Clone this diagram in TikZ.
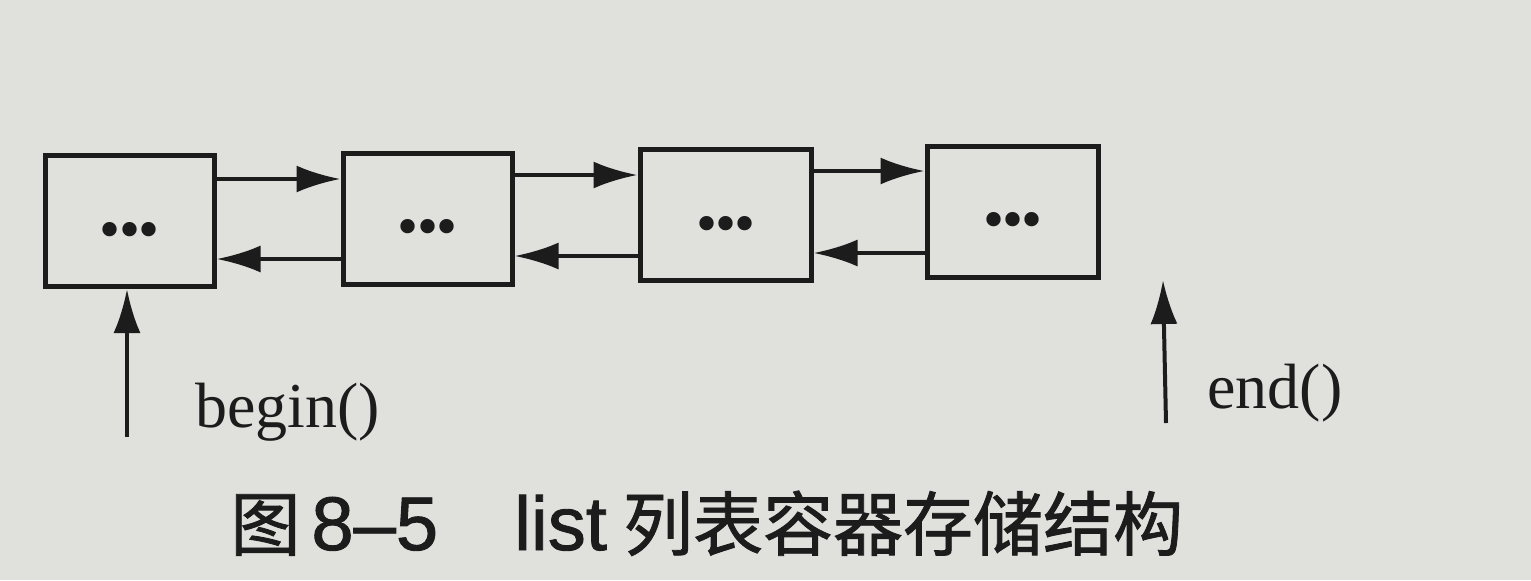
\documentclass[tikz,border=0pt]{standalone}
\usepackage{fontspec}
\setmainfont{Liberation Serif}
\newfontfamily\cjk[FakeBold=1.2]{Noto Sans CJK SC}
\newfontfamily\capl[FakeBold=1.2]{Liberation Sans}
\usetikzlibrary{arrows.meta,calc}
\definecolor{paper}{RGB}{224,224,221}
\definecolor{ink}{RGB}{28,28,28}
\tikzset{
  cell/.style={draw=ink, line width=2.5pt, minimum width=84.5pt, minimum height=65.5pt, inner sep=0pt,
    font=\fontsize{30}{30}\selectfont, text=ink, text height=28pt, text depth=0pt},
  link/.style={draw=ink, line width=2pt, -{Latex[length=22pt,width=13.5pt]}},
  lbl/.style={font=\fontsize{32}{32}\selectfont, text=ink, inner sep=0pt},
}
\newcommand{\tdots}{•\hspace{-1pt}•\hspace{-1pt}•}
\begin{document}
\begin{tikzpicture}[x=0.5pt,y=-0.5pt]
\fill[paper] (0,0) rectangle (1531,580);
\useasboundingbox (0,0) rectangle (1531,580);
\node[cell] (b1) at (129.5,221) {\tdots};
\node[cell] (b2) at (427.5,218.5) {\tdots};
\node[cell, minimum width=85.5pt] (b3) at (725.5,215) {\tdots};
\node[cell, minimum width=85.5pt] (b4) at (1012.5,211.5) {\tdots};
% forward
\draw[link] (b1.east |- 0,179) -- (b2.west |- 0,179);
\draw[link] (b2.east |- 0,175) -- (b3.west |- 0,175);
\draw[link] (b3.east |- 0,171) -- (b4.west |- 0,171);
% backward
\draw[link] (b2.west |- 0,259) -- (b1.east |- 0,259);
\draw[link] (b3.west |- 0,256) -- (b2.east |- 0,256);
\draw[link] (b4.west |- 0,253) -- (b3.east |- 0,253);
% begin / end
\coordinate (bs) at (127,437);
\draw[link] (bs) -- (b1.south -| bs);
\coordinate (es) at (1166,423);
\coordinate (ee) at (1163,280);
\draw[link] (es) -- (ee);
\node[lbl, anchor=base west] (lb) at (195,427) {begin()};
\node[lbl, anchor=base west] (le) at (1207,408) {end()};
% caption
\node[text=ink, inner sep=0pt, anchor=base west, font=\cjk\fontsize{35}{35}\selectfont] (cap) at (230,550)
  {图\hspace{5.5pt}{\capl\fontsize{38}{38}\selectfont 8–5}\hspace{38pt}{\capl\fontsize{38}{38}\selectfont list}\hspace{8pt}列表容器存储结构};
\end{tikzpicture}
\end{document}
